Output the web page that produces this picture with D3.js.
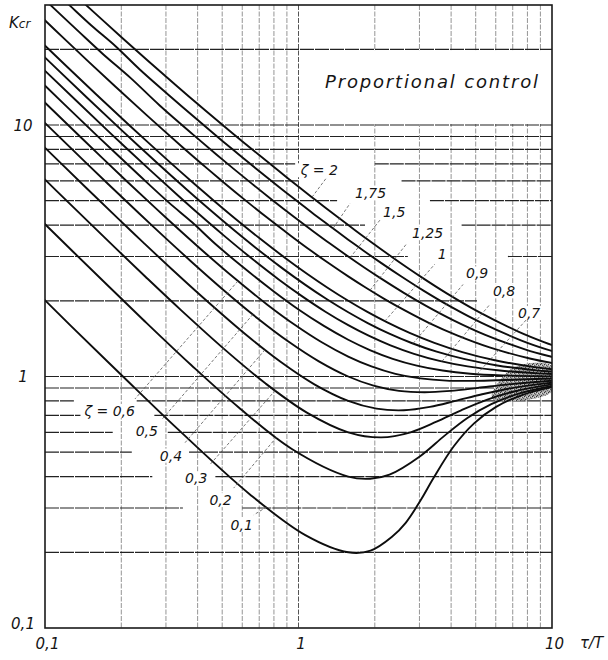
<!DOCTYPE html>
<html>
<head>
<meta charset="utf-8">
<script src="https://cdn.jsdelivr.net/npm/d3@7"></script>
<style>
  html, body { margin: 0; padding: 0; background: #fff; }
  svg { display: block; }
  .lbl { font-family: "DejaVu Sans", sans-serif; font-style: oblique; fill: #151515; }
</style>
</head>
<body>
<div id="chart"></div>
<script>
// Critical gain Kcr against tau/T, one curve per damping ratio zeta.
// Points are [tau/T, Kcr].
const zetas = [0.1, 0.2, 0.3, 0.4, 0.5, 0.6, 0.7, 0.8, 0.9, 1, 1.25, 1.5, 1.75, 2];

const kcrZ010 = [[0.0885, 2.27], [0.1265, 1.59], [0.203, 1.0], [0.335, 0.616], [0.645, 0.339], [1.064, 0.234], [1.571, 0.2], [1.924, 0.203], [2.332, 0.23], [2.648, 0.262], [3.049, 0.325], [3.404, 0.394], [4.105, 0.529], [4.927, 0.651], [6.018, 0.757], [7.617, 0.844], [10.25, 0.912]];
const kcrZ020 = [[0.0753, 5.34], [0.1024, 3.94], [0.1303, 3.105], [0.1728, 2.353], [0.2433, 1.686], [0.3772, 1.111], [0.5813, 0.753], [0.9414, 0.515], [1.571, 0.4], [1.918, 0.392], [2.285, 0.407], [3.019, 0.482], [3.771, 0.582], [4.638, 0.684], [5.762, 0.776], [7.384, 0.855], [10.035, 0.918]];
const kcrZ030 = [[0.0738, 8.2], [0.1113, 5.46], [0.1505, 4.061], [0.1903, 3.231], [0.2496, 2.487], [0.3448, 1.832], [0.5134, 1.276], [0.7418, 0.9375], [1.079, 0.7185], [1.571, 0.6], [2.121, 0.5725], [2.768, 0.6], [3.504, 0.661], [4.382, 0.734], [5.522, 0.808], [7.158, 0.874], [9.821, 0.928], [10.576, 0.937]];
const kcrZ040 = [[0.0697, 11.59], [0.0972, 8.352], [0.1456, 5.618], [0.1953, 4.225], [0.245, 3.4], [0.3174, 2.663], [0.4298, 2.018], [0.6159, 1.475], [0.8467, 1.147], [1.155, 0.931], [1.571, 0.8], [2.032, 0.745], [2.604, 0.734], [3.299, 0.757], [4.164, 0.8], [5.303, 0.85], [6.944, 0.899], [9.612, 0.941], [10.368, 0.948]];
const kcrZ050 = [[0.0652, 15.52], [0.0862, 11.78], [0.1196, 8.544], [0.1778, 5.815], [0.2365, 4.426], [0.294, 3.606], [0.3761, 2.874], [0.4988, 2.235], [0.6926, 1.698], [0.9183, 1.371], [1.203, 1.149], [1.571, 1.0], [1.977, 0.92], [2.492, 0.877], [3.144, 0.866], [3.981, 0.877], [5.107, 0.901], [6.743, 0.93], [9.411, 0.958], [10.166, 0.963]];
const kcrZ060 = [[0.0774, 15.75], [0.1022, 12.01], [0.141, 8.773], [0.2076, 6.047], [0.2737, 4.661], [0.3374, 3.842], [0.4262, 3.112], [0.5553, 2.474], [0.7512, 1.935], [0.9696, 1.602], [1.235, 1.368], [1.571, 1.2], [1.939, 1.097], [2.412, 1.025], [3.023, 0.983], [3.829, 0.963], [4.934, 0.961], [6.556, 0.968], [9.216, 0.979], [10.39, 0.982]];
const kcrZ070 = [[0.0703, 20.25], [0.0894, 16.01], [0.1173, 12.27], [0.1611, 9.036], [0.2352, 6.31], [0.3074, 4.923], [0.3805, 4.104], [0.469, 3.372], [0.6015, 2.73], [0.7968, 2.183], [1.007, 1.838], [1.259, 1.589], [1.571, 1.4], [1.912, 1.274], [2.353, 1.176], [2.929, 1.105], [3.703, 1.056], [4.761, 1.026], [6.384, 1.01], [9.031, 1.002], [10.2, 1.001]];
const kcrZ080 = [[0.0796, 20.55], [0.1008, 16.31], [0.132, 12.57], [0.1801, 9.33], [0.2604, 6.6], [0.3372, 5.21], [0.4088, 4.386], [0.5054, 3.649], [0.6398, 2.998], [0.8328, 2.437], [1.038, 2.078], [1.277, 1.81], [1.571, 1.6], [1.891, 1.453], [2.306, 1.33], [2.855, 1.231], [3.598, 1.154], [4.648, 1.097], [6.226, 1.056], [8.854, 1.029], [10.02, 1.023]];
const kcrZ090 = [[0.0718, 25.63], [0.0885, 20.88], [0.1119, 16.64], [0.1459, 12.89], [0.198, 9.652], [0.2834, 6.915], [0.364, 5.516], [0.438, 4.686], [0.5366, 3.939], [0.6716, 3.275], [0.8619, 2.697], [1.061, 2.319], [1.29, 2.032], [1.571, 1.8], [1.875, 1.631], [2.27, 1.484], [2.793, 1.359], [3.509, 1.255], [4.531, 1.172], [6.083, 1.106], [8.687, 1.058], [9.848, 1.047], [10.776, 1.04]];
const kcrZ100 = [[0.079, 26.0], [0.0972, 21.25], [0.1225, 17.0], [0.159, 13.25], [0.2145, 10.0], [0.3044, 7.25], [0.3878, 5.84], [0.4636, 5.0], [0.5634, 4.24], [0.6983, 3.56], [0.886, 2.96], [1.08, 2.5625], [1.302, 2.254], [1.571, 2.0], [1.862, 1.81], [2.24, 1.64], [2.743, 1.49], [3.435, 1.36], [4.428, 1.25], [5.952, 1.16], [8.529, 1.09], [10.606, 1.0625]];
const kcrZ125 = [[0.0675, 38.08], [0.0961, 27.06], [0.1176, 22.3], [0.147, 18.03], [0.1889, 14.25], [0.2511, 10.97], [0.3489, 8.162], [0.437, 6.708], [0.5152, 5.831], [0.616, 5.027], [0.7493, 4.293], [0.9314, 3.629], [1.114, 3.175], [1.322, 2.812], [1.571, 2.5], [1.839, 2.258], [2.186, 2.032], [2.649, 1.823], [3.28, 1.631], [4.222, 1.458], [5.674, 1.306], [8.173, 1.179], [10.214, 1.127]];
const kcrZ150 = [[0.0792, 39.36], [0.1117, 28.3], [0.1359, 23.51], [0.1687, 19.21], [0.2174, 15.39], [0.2814, 12.04], [0.384, 9.155], [0.4744, 7.636], [0.5536, 6.708], [0.6543, 5.846], [0.7854, 5.047], [0.9615, 4.308], [1.138, 3.792], [1.335, 3.37], [1.571, 3.0], [1.823, 2.707], [2.15, 2.427], [2.584, 2.161], [3.187, 1.91], [4.069, 1.677], [5.454, 1.465], [7.872, 1.28], [9.868, 1.201], [10.92, 1.172]];
const kcrZ175 = [[0.0901, 40.82], [0.126, 29.7], [0.1524, 24.87], [0.1903, 20.52], [0.2365, 16.63], [0.3066, 13.2], [0.4122, 10.2], [0.5036, 8.605], [0.583, 7.616], [0.6829, 6.686], [0.8118, 5.813], [0.9838, 4.993], [1.154, 4.411], [1.345, 3.928], [1.571, 3.5], [1.812, 3.156], [2.123, 2.823], [2.537, 2.503], [3.111, 2.195], [3.951, 1.904], [5.278, 1.633], [7.581, 1.39], [9.522, 1.282], [10.596, 1.243]];
const kcrZ200 = [[0.1002, 42.44], [0.1389, 31.24], [0.1671, 26.35], [0.2044, 21.93], [0.2553, 17.96], [0.3276, 14.42], [0.435, 11.29], [0.527, 9.601], [0.606, 8.544], [0.7053, 7.541], [0.8323, 6.588], [1.001, 5.682], [1.167, 5.032], [1.352, 4.487], [1.571, 4.0], [1.804, 3.605], [2.104, 3.22], [2.501, 2.846], [3.052, 2.484], [3.859, 2.136], [5.136, 1.807], [7.401, 1.506], [9.296, 1.371], [10.887, 1.296]];

const curves = [kcrZ010, kcrZ020, kcrZ030, kcrZ040, kcrZ050, kcrZ060, kcrZ070,
  kcrZ080, kcrZ090, kcrZ100, kcrZ125, kcrZ150, kcrZ175, kcrZ200];

const xTicks = [0.1, 1, 10];
const xTickLabels = ['0,1', '1', '10'];
const yTicks = [0.1, 1, 10];
const yTickLabels = ['0,1', '1', '10'];

const xGrid = [0.2, 0.3, 0.4, 0.5, 0.6, 0.7, 0.8, 0.9, 1, 2, 3, 4, 5, 6, 7, 8, 9];
const yGrid = [0.2, 0.3, 0.4, 0.5, 0.6, 0.7, 0.8, 0.9, 1, 2, 3, 4, 5, 6, 7, 8, 9, 10, 20];

// breaks in the horizontal rulings where the zeta labels sit: [K, from, to]
const yGridGaps = [
  [7, 0.97, 2], [6, 1, 2.55], [5, 1.42, 3.3], [4, 1.83, 4.4], [3, 2.7, 6.7], [2, 5.06, 10],
  [0.8, 0.13, 0.23], [0.7, 0.14, 0.27], [0.6, 0.185, 0.305], [0.5, 0.22, 0.37],
  [0.4, 0.265, 0.47], [0.3, 0.35, 0.6]
];

// blank panel carrying the title: tau/T 1..10, Kcr 10..20
const titleBox = [[1, 20], [10, 10]];

// dark smudge where the curves run together near tau/T = 10
const smudge = [[5.8, 0.82], [7.0, 1.08], [10, 1.10], [10, 0.87]];

// zeta labels: curve point (tau/T) the leader touches, leader vector, text offset
const zetaLabels = [
  { z: 2,    text: 'ζ = 2',   at: 1.13, lead: [15, -20],  off: [11, -2],  anchor: 'end' },
  { z: 1.75, text: '1,75',    at: 1.368, lead: [17, -25], off: [5, -5],   anchor: 'start' },
  { z: 1.5,  text: '1,5',     at: 1.597, lead: [31, -39], off: [2, -2],   anchor: 'start' },
  { z: 1.25, text: '1,25',    at: 1.915, lead: [37, -47], off: [5, -5],   anchor: 'start' },
  { z: 1,    text: '1',       at: 2.19, lead: [50, -57],  off: [3, -5],   anchor: 'start' },
  { z: 0.9,  text: '0,9',     at: 2.83, lead: [50, -59],  off: [3, -6],   anchor: 'start' },
  { z: 0.8,  text: '0,8',     at: 3.68, lead: [48, -57],  off: [3, -8],   anchor: 'start' },
  { z: 0.7,  text: '0,7',     at: 5.06, lead: [50, -55],  off: [-9, -1],  anchor: 'start' },
  { z: 0.6,  text: 'ζ = 0,6', at: 0.577, lead: [-103, 118], off: [0, 17], anchor: 'end' },
  { z: 0.5,  text: '0,5',     at: 0.661, lead: [-91, 105], off: [-4, 17], anchor: 'end' },
  { z: 0.4,  text: '0,4',     at: 0.738, lead: [-80, 93],  off: [-3, 18], anchor: 'end' },
  { z: 0.3,  text: '0,3',     at: 0.81, lead: [-66, 75],   off: [-2, 18], anchor: 'end' },
  { z: 0.2,  text: '0,2',     at: 0.82, lead: [-43, 51],   off: [-2, 17], anchor: 'end' },
  { z: 0.1,  text: '0,1',     at: 0.75, lead: [-13, 8],    off: [-1, 15], anchor: 'end' }
];

const width = 608;
const height = 660;
const margin = { top: 5, right: 56, bottom: 32, left: 45 };

const x = d3.scaleLog().domain([0.1, 10]).range([margin.left, width - margin.right]);
const y = d3.scaleLog().domain([0.1, 30]).range([height - margin.bottom, margin.top]);

const svg = d3.select('#chart').append('svg')
  .attr('width', width)
  .attr('height', height)
  .attr('viewBox', `0 0 ${width} ${height}`);

svg.append('rect').attr('width', width).attr('height', height).attr('fill', '#fff');

const defs = svg.append('defs');
defs.append('clipPath').attr('id', 'plot-clip')
  .append('rect')
  .attr('x', x(0.1)).attr('y', y(30))
  .attr('width', x(10) - x(0.1)).attr('height', y(0.1) - y(30));

const stipple = defs.append('pattern')
  .attr('id', 'stipple')
  .attr('width', 4).attr('height', 4)
  .attr('patternUnits', 'userSpaceOnUse');
stipple.append('rect').attr('width', 4).attr('height', 4).attr('fill', '#a8a8a8');
[[0, 0, '#333'], [2, 1, '#555'], [1, 3, '#444'], [3, 2, '#666'], [1, 1, '#ddd'], [3, 0, '#ccc']]
  .forEach(p => stipple.append('rect')
    .attr('x', p[0]).attr('y', p[1]).attr('width', 1).attr('height', 1).attr('fill', p[2]));

// log interpolation along a curve
function kAt(pts, r) {
  const i = Math.min(Math.max(d3.bisector(d => d[0]).left(pts, r), 1), pts.length - 1);
  const a = pts[i - 1];
  const b = pts[i];
  const t = (Math.log(r) - Math.log(a[0])) / (Math.log(b[0]) - Math.log(a[0]));
  return Math.exp(Math.log(a[1]) + t * (Math.log(b[1]) - Math.log(a[1])));
}

// horizontal ruling split into the pieces left between the gaps
function rulingPieces(k) {
  const gaps = yGridGaps.filter(g => g[0] === k).sort((a, b) => a[1] - b[1]);
  const pieces = [];
  let from = 0.1;
  gaps.forEach(g => {
    if (g[1] > from) pieces.push([from, g[1]]);
    from = Math.max(from, g[2]);
  });
  if (from < 10) pieces.push([from, 10]);
  return pieces.map(p => ({ k, from: p[0], to: p[1] }));
}

const grid = svg.append('g').attr('class', 'grid');

grid.selectAll('.vgrid')
  .data(xGrid)
  .join('line')
  .attr('class', 'vgrid')
  .attr('x1', d => x(d)).attr('x2', d => x(d))
  .attr('y1', y(30)).attr('y2', y(0.1))
  .attr('stroke', d => d === 1 ? '#555' : '#7a7a7a')
  .attr('stroke-width', d => d === 1 ? 1 : 0.8)
  .attr('stroke-dasharray', '5,1.5');

grid.selectAll('.hgrid')
  .data(yGrid.flatMap(rulingPieces))
  .join('line')
  .attr('class', 'hgrid')
  .attr('x1', d => x(d.from)).attr('x2', d => x(d.to))
  .attr('y1', d => y(d.k)).attr('y2', d => y(d.k))
  .attr('stroke', '#222')
  .attr('stroke-width', 1.2)
  .attr('stroke-dasharray', '14,1');

// white-outs: title panel and the patches behind the zeta labels
const knockout = svg.append('g').attr('class', 'knockout');
knockout.append('rect')
  .attr('x', x(titleBox[0][0]) + 1)
  .attr('y', y(titleBox[0][1]) + 1)
  .attr('width', x(titleBox[1][0]) - x(titleBox[0][0]) - 2)
  .attr('height', y(titleBox[1][1]) - y(titleBox[0][1]) - 2)
  .attr('fill', '#fff');

svg.append('path')
  .datum(smudge)
  .attr('clip-path', 'url(#plot-clip)')
  .attr('fill', 'url(#stipple)')
  .attr('d', d3.line().x(d => x(d[0])).y(d => y(d[1])).curve(d3.curveCatmullRomClosed));

const line = d3.line()
  .x(d => x(d[0]))
  .y(d => y(d[1]))
  .curve(d3.curveCatmullRom.alpha(0.5));

svg.append('g')
  .attr('clip-path', 'url(#plot-clip)')
  .selectAll('.curve')
  .data(curves)
  .join('path')
  .attr('class', 'curve')
  .attr('fill', 'none')
  .attr('stroke', '#0d0d0d')
  .attr('stroke-width', 1.9)
  .attr('stroke-linejoin', 'round')
  .attr('d', line);

// frame
svg.append('rect')
  .attr('x', x(0.1)).attr('y', y(30))
  .attr('width', x(10) - x(0.1)).attr('height', y(0.1) - y(30))
  .attr('fill', 'none')
  .attr('stroke', '#1a1a1a')
  .attr('stroke-width', 1.6);

// leaders and zeta labels
const labelLayer = svg.append('g').attr('class', 'zeta-labels');
zetaLabels.forEach(l => {
  const pts = curves[zetas.indexOf(l.z)];
  const ex = x(l.at);
  const ey = y(kAt(pts, l.at));
  const sx = ex + l.lead[0];
  const sy = ey + l.lead[1];

  labelLayer.append('line')
    .attr('x1', ex).attr('y1', ey)
    .attr('x2', sx).attr('y2', sy)
    .attr('stroke', '#555')
    .attr('stroke-width', 0.8)
    .attr('stroke-dasharray', '3,2');

  const t = labelLayer.append('text')
    .attr('class', 'lbl')
    .attr('x', sx + l.off[0])
    .attr('y', sy + l.off[1])
    .attr('text-anchor', l.anchor)
    .attr('font-size', 14)
    .text(l.text);

  const box = t.node().getBBox();
  knockout.append('rect')
    .attr('x', box.x - 3).attr('y', box.y + 1)
    .attr('width', box.width + 6).attr('height', box.height - 2)
    .attr('fill', '#fff');
});

// title
svg.append('text')
  .attr('class', 'lbl')
  .attr('x', 325)
  .attr('y', 88)
  .attr('font-size', 18)
  .attr('textLength', 213)
  .attr('lengthAdjust', 'spacing')
  .text('Proportional control');

// axes
const xAxis = svg.append('g')
  .attr('transform', `translate(0,${y(0.1)})`)
  .call(d3.axisBottom(x).tickValues(xTicks).tickFormat((d, i) => xTickLabels[i]).tickSize(0).tickPadding(10));

const yAxis = svg.append('g')
  .attr('transform', `translate(${x(0.1)},0)`)
  .call(d3.axisLeft(y).tickValues(yTicks).tickFormat((d, i) => yTickLabels[i]).tickSize(0));

[xAxis, yAxis].forEach(g => {
  g.select('.domain').remove();
  g.selectAll('text')
    .attr('class', 'lbl')
    .attr('font-size', 15)
    .attr('fill', '#151515');
});

xAxis.selectAll('text').attr('dx', 2);
yAxis.selectAll('text')
  .attr('text-anchor', 'middle')
  .attr('x', 23 - x(0.1))
  .attr('dy', d => d === 0.1 ? '0.05em' : '0.36em');

svg.append('text')
  .attr('class', 'lbl')
  .attr('x', 580)
  .attr('y', 648)
  .attr('font-size', 15)
  .text('τ/T');

const kLabel = svg.append('text')
  .attr('class', 'lbl')
  .attr('x', 9)
  .attr('y', 28)
  .attr('font-size', 15);
kLabel.append('tspan').text('K');
kLabel.append('tspan').attr('font-size', 12).text('cr');
</script>
</body>
</html>
